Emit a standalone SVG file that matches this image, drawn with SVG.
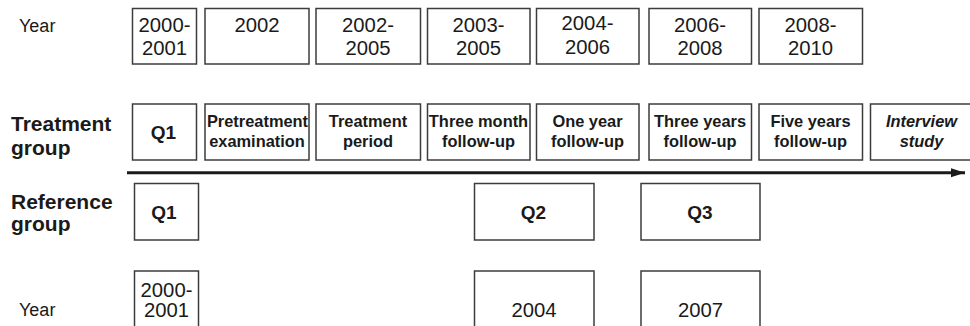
<svg xmlns="http://www.w3.org/2000/svg" width="970" height="326" viewBox="0 0 970 326">
<style>
.box{fill:#fff;stroke:#3c3c3c;stroke-width:1.5}
text{font-family:"Liberation Sans",Arial,sans-serif;fill:#1a1a1a}
.yr{font-size:20.3px;text-anchor:middle}
.lbl{font-size:18px}
.grp{font-size:21px;font-weight:bold}
.q{font-size:19px;font-weight:bold;text-anchor:middle}
.st{font-size:16.4px;font-weight:bold;text-anchor:middle}
.it{font-style:italic}
</style>
<defs>
<marker id="arr" markerWidth="14" markerHeight="10" refX="14" refY="5" orient="auto" markerUnits="userSpaceOnUse">
<polygon points="0,0.5 14,5 0,9.5" fill="#1a1a1a"/>
</marker>
</defs>
<rect width="970" height="326" fill="#fff"/>

<g id="labels">
<text class="lbl" x="19" y="32">Year</text>
<text class="grp" x="11" y="130.5">Treatment</text>
<text class="grp" x="11" y="155">group</text>
<text class="grp" x="11" y="209">Reference</text>
<text class="grp" x="11" y="231">group</text>
<text class="lbl" x="19" y="315.5">Year</text>
</g>

<g id="connectors">
<line x1="127" y1="172.7" x2="965" y2="172.7" stroke="#1a1a1a" stroke-width="3" marker-end="url(#arr)"/>
</g>

<g id="year-top-1"><rect class="box" x="132.5" y="8.5" width="64" height="55.5"/><text class="yr" x="164.5" y="31.5">2000-</text><text class="yr" x="164.5" y="55">2001</text></g>
<g id="year-top-2"><rect class="box" x="205" y="8.5" width="104" height="55.5"/><text class="yr" x="257" y="31.5">2002</text></g>
<g id="year-top-3"><rect class="box" x="316" y="8.5" width="104.5" height="55.5"/><text class="yr" x="368" y="31.5">2002-</text><text class="yr" x="368" y="55">2005</text></g>
<g id="year-top-4"><rect class="box" x="427.5" y="8.5" width="102.5" height="55.5"/><text class="yr" x="478.5" y="31.5">2003-</text><text class="yr" x="478.5" y="55">2005</text></g>
<g id="year-top-5"><rect class="box" x="536.5" y="8.5" width="102.5" height="55.5"/><text class="yr" x="587.5" y="29.5">2004-</text><text class="yr" x="587.5" y="53.5">2006</text></g>
<g id="year-top-6"><rect class="box" x="649" y="8.5" width="102.5" height="55.5"/><text class="yr" x="700" y="31.5">2006-</text><text class="yr" x="700" y="55">2008</text></g>
<g id="year-top-7"><rect class="box" x="759" y="8.5" width="103.5" height="55.5"/><text class="yr" x="810.5" y="31.5">2008-</text><text class="yr" x="810.5" y="55">2010</text></g>

<g id="treat-q1"><rect class="box" x="132.5" y="104" width="64" height="56"/><text class="q" x="163.5" y="138.5">Q1</text></g>
<g id="treat-pre"><rect class="box" x="205" y="104" width="104" height="56"/><text class="st" x="257.5" y="127">Pretreatment</text><text class="st" x="257" y="146.5">examination</text></g>
<g id="treat-period"><rect class="box" x="316" y="104" width="104.5" height="56"/><text class="st" x="368" y="127">Treatment</text><text class="st" x="368" y="146.5">period</text></g>
<g id="treat-3m"><rect class="box" x="427.5" y="104" width="102.5" height="56"/><text class="st" x="478.5" y="127">Three month</text><text class="st" x="478.5" y="146.5">follow-up</text></g>
<g id="treat-1y"><rect class="box" x="536.5" y="104" width="102.5" height="56"/><text class="st" x="587.5" y="127">One year</text><text class="st" x="587.5" y="146.5">follow-up</text></g>
<g id="treat-3y"><rect class="box" x="649" y="104" width="102.5" height="56"/><text class="st" x="700" y="127">Three years</text><text class="st" x="700" y="146.5">follow-up</text></g>
<g id="treat-5y"><rect class="box" x="759" y="104" width="103.5" height="56"/><text class="st" x="810.5" y="127">Five years</text><text class="st" x="810.5" y="146.5">follow-up</text></g>
<g id="treat-int"><rect class="box" x="870.5" y="104" width="104" height="56"/><text class="st it" x="921.5" y="127">Interview</text><text class="st it" x="921.5" y="146.5">study</text></g>

<g id="ref-q1"><rect class="box" x="134.5" y="183.5" width="64" height="56.5"/><text class="q" x="164" y="218.5">Q1</text></g>
<g id="ref-q2"><rect class="box" x="474.5" y="183.5" width="119.5" height="56.5"/><text class="q" x="533.5" y="218.5">Q2</text></g>
<g id="ref-q3"><rect class="box" x="641" y="183.5" width="119" height="56.5"/><text class="q" x="700" y="218.5">Q3</text></g>

<g id="year-bot-1"><rect class="box" x="134.5" y="271" width="64" height="60"/><text class="yr" x="166.5" y="296.5">2000-</text><text class="yr" x="166.5" y="316.5">2001</text></g>
<g id="year-bot-2"><rect class="box" x="474.5" y="271" width="119.5" height="60"/><text class="yr" x="534" y="316.5">2004</text></g>
<g id="year-bot-3"><rect class="box" x="641" y="271" width="119" height="60"/><text class="yr" x="700.5" y="316.5">2007</text></g>
</svg>
